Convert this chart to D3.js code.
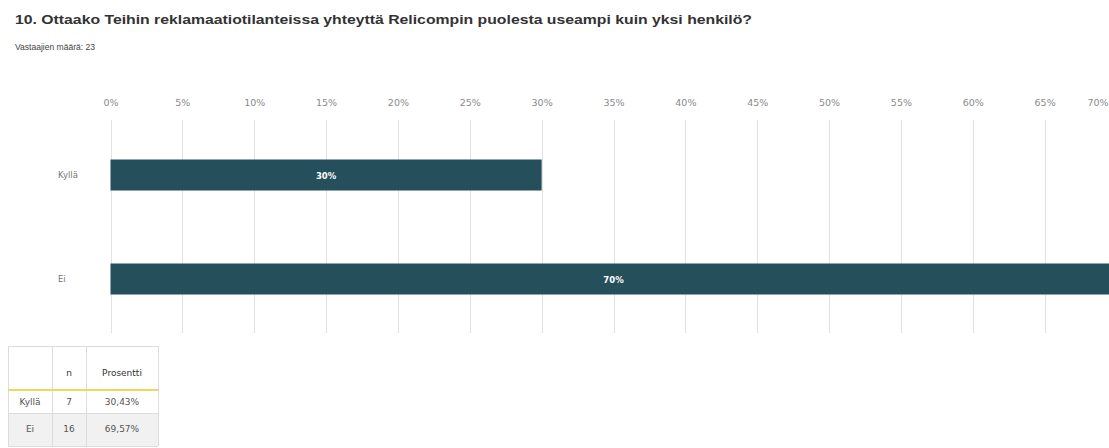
<!DOCTYPE html>
<html>
<head>
<meta charset="utf-8">
<script src="https://cdn.jsdelivr.net/npm/d3@7"></script>
<style>
  html, body { margin: 0; padding: 0; background: #ffffff; }
  svg { display: block; }
</style>
</head>
<body>
<svg id="chart" width="1109" height="448"></svg>
<script>
// Question and respondent count
const titleText = "10. Ottaako Teihin reklamaatiotilanteissa yhteyttä Relicompin puolesta useampi kuin yksi henkilö?";
const subtitleText = "Vastaajien määrä: 23";

// Answer categories and shares (bars use the rounded shares shown on them)
const categories = ["Kyllä", "Ei"];
const barPercents = [30, 70];
const counts = [7, 16];
const exactPercents = ["30,43%", "69,57%"];

// Axis ticks
const tickValues = [0, 5, 10, 15, 20, 25, 30, 35, 40, 45, 50, 55, 60, 65, 70];

// Summary table header
const tableHeader = ["", "n", "Prosentti"];

const svg = d3.select("#chart");
const width = 1109;
const barColor = "#244f5b";
const gridColor = "#e2e2e2";
const smallFont = "DejaVu Sans, Verdana, sans-serif";

// Title and subtitle
svg.append("text")
  .attr("x", 15).attr("y", 24)
  .attr("font-family", "Liberation Sans, Arial, sans-serif")
  .attr("font-weight", "bold")
  .attr("font-size", 13)
  .attr("fill", "#333")
  .attr("textLength", 737)
  .attr("lengthAdjust", "spacingAndGlyphs")
  .text(titleText);

svg.append("text")
  .attr("x", 15).attr("y", 50)
  .attr("font-family", "Liberation Sans, Arial, sans-serif")
  .attr("font-size", 9)
  .attr("fill", "#444")
  .attr("textLength", 80)
  .attr("lengthAdjust", "spacingAndGlyphs")
  .text(subtitleText);

// Scales
const x = d3.scaleLinear().domain([0, 70]).range([110.5, 1116.5]);
const y = d3.scalePoint().domain(categories).range([175, 279]);
const barHeight = 31;

// Vertical gridlines
svg.append("g").selectAll("line")
  .data(tickValues)
  .join("line")
  .attr("x1", d => Math.round(x(d)) + 0.5)
  .attr("x2", d => Math.round(x(d)) + 0.5)
  .attr("y1", 120)
  .attr("y2", 333)
  .attr("stroke", gridColor)
  .attr("stroke-width", 1);

// Top axis labels
const axis = d3.axisTop(x)
  .tickValues(tickValues)
  .tickFormat(d => d + "%")
  .tickSize(0)
  .tickPadding(0);

const axisG = svg.append("g")
  .attr("transform", "translate(0,106)")
  .call(axis);
axisG.select(".domain").remove();
axisG.selectAll("text")
  .attr("font-family", smallFont)
  .attr("font-size", 9.5)
  .attr("fill", "#8a8a8a");
// Keep the last label inside the drawing area
axisG.selectAll(".tick")
  .filter(d => x(d) > width - 20)
  .select("text")
  .attr("text-anchor", "end")
  .attr("dx", d => (width - 1) - x(d));

// Category labels
svg.append("g").selectAll("text")
  .data(categories)
  .join("text")
  .attr("x", 58)
  .attr("y", d => y(d) + 3)
  .attr("font-family", smallFont)
  .attr("font-size", 8.5)
  .attr("fill", "#777")
  .text(d => d);

// Bars
const rows = categories.map((c, i) => ({ cat: c, value: barPercents[i] }));

svg.append("g").selectAll("rect")
  .data(rows)
  .join("rect")
  .attr("x", x(0))
  .attr("y", d => y(d.cat) - barHeight / 2)
  .attr("width", d => x(d.value) - x(0))
  .attr("height", barHeight)
  .attr("fill", barColor);

// Value labels inside bars
svg.append("g").selectAll("text")
  .data(rows)
  .join("text")
  .attr("x", d => (x(0) + x(d.value)) / 2)
  .attr("y", d => y(d.cat) + 3.5)
  .attr("text-anchor", "middle")
  .attr("font-family", smallFont)
  .attr("font-weight", "bold")
  .attr("font-size", 8.5)
  .attr("fill", "#ffffff")
  .text(d => d.value + "%");

// Summary table
const colX = [8, 52, 86, 158];
const rowY = [346, 390, 413, 446];
const table = svg.append("g");

// Shaded second data row
table.append("rect")
  .attr("x", colX[0]).attr("y", rowY[2])
  .attr("width", colX[3] - colX[0]).attr("height", rowY[3] - rowY[2])
  .attr("fill", "#f1f1f1");

// Cell borders
colX.forEach(cx => {
  table.append("line")
    .attr("x1", cx + 0.5).attr("x2", cx + 0.5)
    .attr("y1", rowY[0]).attr("y2", rowY[3])
    .attr("stroke", "#dcdcdc");
});
[rowY[0], rowY[2], rowY[3]].forEach(ry => {
  table.append("line")
    .attr("x1", colX[0]).attr("x2", colX[3])
    .attr("y1", ry + 0.5).attr("y2", ry + 0.5)
    .attr("stroke", "#dcdcdc");
});
// Yellow rule under header
table.append("line")
  .attr("x1", colX[0]).attr("x2", colX[3])
  .attr("y1", rowY[1]).attr("y2", rowY[1])
  .attr("stroke", "#f2d65a")
  .attr("stroke-width", 2);

const colCenter = i => (colX[i] + colX[i + 1]) / 2;

table.selectAll("text.head")
  .data(tableHeader)
  .join("text")
  .attr("class", "head")
  .attr("x", (d, i) => colCenter(i))
  .attr("y", 376)
  .attr("text-anchor", "middle")
  .attr("font-family", smallFont)
  .attr("font-size", 9)
  .attr("fill", "#333")
  .text(d => d);

const rowBaselines = [405, 432];
categories.forEach((c, r) => {
  const cells = [c, String(counts[r]), exactPercents[r]];
  table.selectAll("text.r" + r)
    .data(cells)
    .join("text")
    .attr("class", "r" + r)
    .attr("x", (d, i) => colCenter(i))
    .attr("y", rowBaselines[r])
    .attr("text-anchor", "middle")
    .attr("font-family", smallFont)
    .attr("font-size", 9)
    .attr("fill", "#555")
    .text(d => d);
});
</script>
</body>
</html>
